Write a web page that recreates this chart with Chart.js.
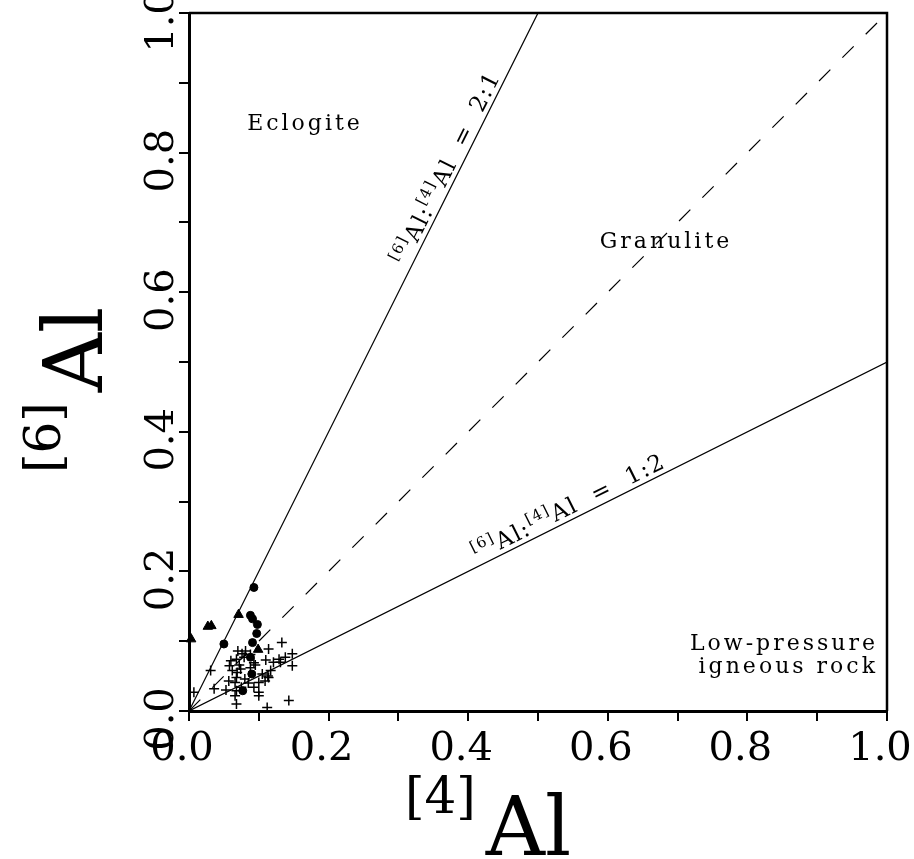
<!DOCTYPE html>
<html>
<head>
<meta charset="utf-8">
<script src="https://cdn.jsdelivr.net/npm/chart.js@4"></script>
<style>
  body { margin: 0; background: #fff; }
</style>
</head>
<body>
<canvas id="myChart" width="914" height="859"></canvas>
<script>
// ---- data ----
let tickValues = [0, 0.2, 0.4, 0.6, 0.8, 1.0];
let tickLabels = ['0.0', '0.2', '0.4', '0.6', '0.8', '1.0'];

// reference lines 2:1, 1:1, 1:2
let line21 = [{x: 0, y: 0}, {x: 0.5, y: 1.0}];
let line11 = [{x: 0, y: 0}, {x: 1.0, y: 1.0}];
let line12 = [{x: 0, y: 0}, {x: 1.0, y: 0.5}];

let circles = [
    {x: 0.093, y: 0.177}, {x: 0.088, y: 0.137}, {x: 0.091, y: 0.132}, {x: 0.098, y: 0.124},
    {x: 0.097, y: 0.111}, {x: 0.091, y: 0.098}, {x: 0.050, y: 0.096}, {x: 0.088, y: 0.077},
    {x: 0.090, y: 0.053}, {x: 0.077, y: 0.029}
];

let triangles = [
    {x: 0.003, y: 0.103}, {x: 0.027, y: 0.121}, {x: 0.032, y: 0.122},
    {x: 0.071, y: 0.138}, {x: 0.099, y: 0.088}
];

let crosses = [
    {x: 0.007, y: 0.027}, {x: 0.031, y: 0.058}, {x: 0.036, y: 0.032}, {x: 0.053, y: 0.030},
    {x: 0.057, y: 0.043}, {x: 0.060, y: 0.072}, {x: 0.062, y: 0.058}, {x: 0.070, y: 0.086},
    {x: 0.068, y: 0.074}, {x: 0.069, y: 0.055}, {x: 0.068, y: 0.048}, {x: 0.066, y: 0.041},
    {x: 0.068, y: 0.029}, {x: 0.066, y: 0.022}, {x: 0.068, y: 0.010}, {x: 0.074, y: 0.060},
    {x: 0.076, y: 0.082}, {x: 0.079, y: 0.077}, {x: 0.081, y: 0.086}, {x: 0.088, y: 0.081},
    {x: 0.093, y: 0.069}, {x: 0.088, y: 0.062}, {x: 0.095, y: 0.066}, {x: 0.100, y: 0.041},
    {x: 0.093, y: 0.034}, {x: 0.100, y: 0.027}, {x: 0.100, y: 0.022}, {x: 0.105, y: 0.053},
    {x: 0.109, y: 0.043}, {x: 0.114, y: 0.048}, {x: 0.117, y: 0.058}, {x: 0.112, y: 0.005},
    {x: 0.114, y: 0.089}, {x: 0.121, y: 0.070}, {x: 0.129, y: 0.074}, {x: 0.131, y: 0.070},
    {x: 0.133, y: 0.098}, {x: 0.138, y: 0.077}, {x: 0.143, y: 0.015}, {x: 0.148, y: 0.082},
    {x: 0.148, y: 0.065}, {x: 0.110, y: 0.073}, {x: 0.113, y: 0.050}, {x: 0.075, y: 0.034},
    {x: 0.080, y: 0.046}, {x: 0.058, y: 0.065}, {x: 0.072, y: 0.066}, {x: 0.085, y: 0.040}
];

const SERIF = '"DejaVu Serif", "Liberation Serif", serif';


// -------- TEXT MIT HOCHSTELLUNG -------- //

function drawRich(ctx, parts, x, y, align) {
    let total = 0;
    parts.forEach(p => { ctx.font = p.font; total += ctx.measureText(p.t).width + (p.gap || 0); });
    let cx = x;
    if (align === 'center') cx = x - total / 2;
    if (align === 'right') cx = x - total;
    parts.forEach(p => {
        ctx.font = p.font;
        ctx.fillText(p.t, cx, y + (p.dy || 0));
        cx += ctx.measureText(p.t).width + (p.gap || 0);
    });
}

function ratioParts(ratio) {
    return [
        {t: '[6]', font: '15px ' + SERIF, dy: -10},
        {t: 'Al:', font: '23px ' + SERIF},
        {t: '[4]', font: '15px ' + SERIF, dy: -10},
        {t: 'Al  =  ' + ratio, font: '23px ' + SERIF}
    ];
}

function drawAlongLine(chart, data, at, ratio) {
    const ctx = chart.ctx;
    const xs = chart.scales.x, ys = chart.scales.y;
    const x0 = xs.getPixelForValue(data[0].x), y0 = ys.getPixelForValue(data[0].y);
    const x1 = xs.getPixelForValue(data[1].x), y1 = ys.getPixelForValue(data[1].y);
    const angle = Math.atan2(y1 - y0, x1 - x0);
    ctx.save();
    ctx.fillStyle = '#000';
    ctx.textAlign = 'left';
    ctx.textBaseline = 'alphabetic';
    ctx.translate(xs.getPixelForValue(at.x), ys.getPixelForValue(at.y));
    ctx.rotate(angle);
    ctx.letterSpacing = '1.5px';
    drawRich(ctx, ratioParts(ratio), 0, -5, 'center');
    ctx.restore();
}


// -------- BESCHRIFTUNG -------- //

const decoPlugin = {
    id: 'deco',
    afterDraw(chart) {
        const ctx = chart.ctx;
        const a = chart.chartArea;
        const xs = chart.scales.x, ys = chart.scales.y;

        // Rahmen oben und rechts
        ctx.save();
        ctx.strokeStyle = '#000';
        ctx.lineWidth = 2.5;
        ctx.beginPath();
        ctx.moveTo(a.left, a.top);
        ctx.lineTo(a.right, a.top);
        ctx.lineTo(a.right, a.bottom);
        ctx.stroke();

        ctx.fillStyle = '#000';
        ctx.textBaseline = 'alphabetic';

        // Achsenbeschriftung x
        ctx.font = '40px ' + SERIF;
        ctx.textAlign = 'center';
        for (let i = 0; i < tickValues.length; i++) {
            ctx.fillText(tickLabels[i], xs.getPixelForValue(tickValues[i]) - 7, 760);
        }
        // Achsenbeschriftung y (gedreht)
        for (let i = 0; i < tickValues.length; i++) {
            ctx.save();
            ctx.translate(173, ys.getPixelForValue(tickValues[i]) + 8);
            ctx.rotate(-Math.PI / 2);
            ctx.fillText(tickLabels[i], 0, 0);
            ctx.restore();
        }

        ctx.textAlign = 'left';
        // x Titel
        drawRich(ctx, [
            {t: '[4]', font: '50px ' + SERIF, dy: -42, gap: 10},
            {t: 'Al', font: '82px ' + SERIF}
        ], 405, 855, 'left');

        // y Titel
        ctx.save();
        ctx.translate(102, 473);
        ctx.rotate(-Math.PI / 2);
        drawRich(ctx, [
            {t: '[6]', font: '50px ' + SERIF, dy: -42, gap: 10},
            {t: 'Al', font: '82px ' + SERIF}
        ], 0, 0, 'left');
        ctx.restore();

        // Feldnamen
        ctx.letterSpacing = '3px';
        ctx.font = '22px ' + SERIF;
        ctx.textAlign = 'center';
        ctx.fillText('Eclogite', 305, 130);
        ctx.fillText('Granulite', 666, 248);
        ctx.textAlign = 'right';
        ctx.fillText('Low-pressure', 878, 650);
        ctx.fillText('igneous rock', 878, 673);
        ctx.letterSpacing = '0px';
        ctx.textAlign = 'left';
        ctx.restore();

        drawAlongLine(chart, line21, {x: 0.385, y: 0.770}, '2:1');
        drawAlongLine(chart, line12, {x: 0.552, y: 0.276}, '1:2');
    }
};


// -------- DIAGRAMM -------- //

function init() {
    const ctx = document.getElementById('myChart');
    const axisOpts = {
        type: 'linear',
        min: 0,
        max: 1,
        ticks: { display: false, stepSize: 0.1 },
        grid: { drawOnChartArea: false, color: '#000', tickLength: 10, lineWidth: 2 },
        border: { color: '#000', width: 3 }
    };

    new Chart(ctx, {
        type: 'scatter',
        data: {
            datasets: [
                { data: line21, showLine: true, borderColor: '#000', borderWidth: 1.2, pointRadius: 0 },
                { data: line11, showLine: true, borderColor: '#000', borderWidth: 1.2, pointRadius: 0, borderDash: [16, 17] },
                { data: line12, showLine: true, borderColor: '#000', borderWidth: 1.2, pointRadius: 0 },
                { data: crosses, pointStyle: 'cross', pointRadius: 5, borderColor: '#000', borderWidth: 1.5, clip: false },
                { data: circles, pointStyle: 'circle', pointRadius: 4, backgroundColor: '#000', borderColor: '#000', borderWidth: 1, clip: false },
                { data: triangles, pointStyle: 'triangle', pointRadius: 5.5, backgroundColor: '#000', borderColor: '#000', borderWidth: 1, clip: false }
            ]
        },
        options: {
            responsive: false,
            animation: false,
            events: [],
            layout: { padding: { left: 179, right: 27, top: 13, bottom: 138 } },
            plugins: { legend: { display: false }, tooltip: { enabled: false } },
            scales: {
                x: axisOpts,
                y: JSON.parse(JSON.stringify(axisOpts))
            }
        },
        plugins: [decoPlugin]
    });
}

init();
</script>
</body>
</html>
